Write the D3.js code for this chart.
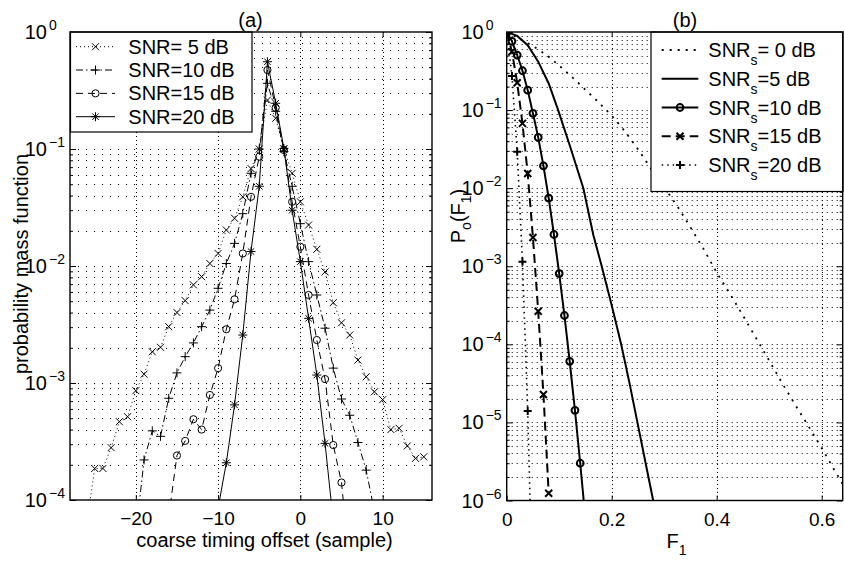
<!DOCTYPE html>
<html><head><meta charset="utf-8">
<script src="https://cdn.jsdelivr.net/npm/d3@7"></script>
<style>
body{margin:0;background:#fff;}
svg{display:block;}
</style></head><body>
<svg id="chart" width="844" height="562"></svg>
<script>
// ---------------- Panel (a) data ----------------
const xDomainA = [-28, 16];
const xTicksA = [-20, -10, 0, 10];
const yExpA = [0, -1, -2, -3, -4];
const labelsA = ["SNR= 5 dB", "SNR=10 dB", "SNR=15 dB", "SNR=20 dB"];

const x5dB = [-26,-25,-24,-23,-22,-21,-20,-19,-18,-17,-16,-15,-14,-13,-12,-11,-10,-9,-8,-7,-6,-5,-4,-3,-2,-1,0,1,2,3,4,5,6,7,8,9,10,11,12,13,14,15];
const pmf5dB = [6e-5,1.86e-4,1.86e-4,2.8e-4,4.67e-4,5.15e-4,8.6e-4,1.19e-3,1.85e-3,2.02e-3,3.03e-3,4.0e-3,5.06e-3,6.9e-3,8.1e-3,1.05e-2,1.28e-2,2.03e-2,2.56e-2,3.9e-2,6.8e-2,0.10,0.262,0.183,0.10,0.062,0.0354,0.0224,0.0139,0.0089,0.00486,0.00327,0.00257,0.00157,0.00113,8.4e-4,7.2e-4,4.0e-4,4.1e-4,2.9e-4,2.27e-4,2.34e-4];

const x10dB = [-20,-19,-18,-17,-16,-15,-14,-13,-12,-11,-10,-9,-8,-7,-6,-5,-4,-3,-2,-1,0,1,2,3,4,5,6,7,8,9];
const pmf10dB = [5e-5,2.2e-4,3.9e-4,3.5e-4,7.4e-4,1.22e-3,1.68e-3,2.2e-3,3.03e-3,4.2e-3,6.45e-3,1.05e-2,1.56e-2,2.8e-2,6.2e-2,0.10,0.364,0.21,0.095,0.048,0.023,0.0109,0.00565,0.00294,0.00134,7.3e-4,5.3e-4,3.1e-4,1.8e-4,8e-5];

const x15dB = [-16,-15,-14,-13,-12,-11,-10,-9,-8,-7,-6,-5,-4,-3,-2,-1,0,1,2,3,4,5,6];
const pmf15dB = [7.2e-5,2.4e-4,3.2e-4,4.9e-4,4.0e-4,7.9e-4,1.34e-3,2.88e-3,5.19e-3,1.28e-2,3.9e-2,0.086,0.473,0.225,0.098,0.0354,0.0146,0.00565,0.00233,0.00108,2.95e-4,1.41e-4,2.7e-5];

const x20dB = [-10,-9,-8,-7,-6,-5,-4,-3,-2,-1,0,1,2,3,4];
const pmf20dB = [8.5e-5,2.08e-4,6.5e-4,2.57e-3,1.33e-2,0.048,0.557,0.246,0.101,0.030,0.0109,0.00357,0.00117,3.05e-4,6.6e-5];

// ---------------- Panel (b) data ----------------
const xDomainB = [0, 0.64];
const xTicksB = [0, 0.2, 0.4, 0.6];
const yExpB = [0, -1, -2, -3, -4, -5, -6];
const labelsB = ["= 0 dB", "=5 dB", "=10 dB", "=15 dB", "=20 dB"];

const F0dB = [0,0.025,0.05,0.075,0.1,0.125,0.15,0.175,0.2,0.225,0.25,0.275,0.3,0.325,0.35,0.375,0.4,0.425,0.45,0.475,0.5,0.525,0.55,0.575,0.6,0.625,0.65];
const P0dB = [1,0.813,0.661,0.513,0.372,0.263,0.182,0.126,0.0851,0.0537,0.0316,0.0178,0.0102,0.00589,0.00316,0.00166,8.3e-4,4.47e-4,2.34e-4,1.2e-4,6.2e-5,3.16e-5,1.66e-5,8.9e-6,4.7e-6,2.4e-6,1.26e-6];

const F5dB = [0,0.02,0.04,0.06,0.08,0.098,0.12,0.146,0.165,0.181,0.2,0.218,0.234,0.249,0.264,0.279,0.29];
const P5dB = [1,0.891,0.676,0.417,0.219,0.1,0.0355,0.01,0.00251,0.001,3.16e-4,1e-4,3.16e-5,1e-5,3.16e-6,1e-6,4e-7];

const F10dB = [0,0.01,0.02,0.03,0.04,0.05,0.06,0.07,0.08,0.09,0.1,0.11,0.12,0.13,0.14,0.15];
const P10dB = [1,0.76,0.507,0.319,0.180,0.0908,0.0447,0.0193,0.00745,0.00255,8.05e-4,2.34e-4,6.05e-5,1.43e-5,3.0e-6,5.8e-7];

const F15dB = [0,0.01,0.02,0.03,0.04,0.05,0.06,0.07,0.08];
const P15dB = [1,0.56,0.224,0.0676,0.0154,0.00233,2.65e-4,2.28e-5,1.24e-6];

const F20dB = [0,0.01,0.02,0.03,0.04,0.05];
const P20dB = [1,0.273,0.0292,0.00114,1.4e-5,4e-8];

// ---------------- drawing ----------------
const FONT = "'Liberation Sans', Arial, Helvetica, sans-serif";
const svg = d3.select("#chart").attr("font-family", FONT);

const boxA = {left:70, right:432, top:32, bottom:500};
const boxB = {left:506.7, right:842.7, top:32, bottom:500.5};

const xA = d3.scaleLinear().domain(xDomainA).range([boxA.left, boxA.right]);
const yA = d3.scaleLog().domain([1e-4, 1]).range([boxA.bottom, boxA.top]);
const xB = d3.scaleLinear().domain(xDomainB).range([boxB.left, boxB.right]);
const yB = d3.scaleLog().domain([1e-6, 1]).range([boxB.bottom, boxB.top]);

function logGrid(minE, maxE){ const v=[]; for(let e=minE;e<maxE;e++){ for(let m=1;m<10;m++) v.push(m*Math.pow(10,e)); } v.push(Math.pow(10,maxE)); return v; }
function logMinor(minE, maxE){ const v=[]; for(let e=minE;e<maxE;e++){ for(let m=2;m<10;m++) v.push(m*Math.pow(10,e)); } return v; }

function markerPath(type, cx, cy, s){
  if(type==="x") return `M${cx-s},${cy-s}L${cx+s},${cy+s}M${cx-s},${cy+s}L${cx+s},${cy-s}`;
  if(type==="+") return `M${cx-s},${cy}L${cx+s},${cy}M${cx},${cy-s}L${cx},${cy+s}`;
  if(type==="*"){ const t=s*0.72; return `M${cx-s},${cy}L${cx+s},${cy}M${cx},${cy-s}L${cx},${cy+s}M${cx-t},${cy-t}L${cx+t},${cy+t}M${cx-t},${cy+t}L${cx+t},${cy-t}`; }
  return "";
}

function drawMarker(g, type, cx, cy, s, sw){
  if(type==="o"){
    g.append("circle").attr("cx",cx).attr("cy",cy).attr("r",s).attr("fill","none").attr("stroke","#000").attr("stroke-width",sw);
  } else if(type){
    g.append("path").attr("d",markerPath(type,cx,cy,s)).attr("fill","none").attr("stroke","#000").attr("stroke-width",sw);
  }
}

function panel(id, box, x, y, xTicks, yExps, hDash, vDash, fmt){
  const clip = svg.append("clipPath").attr("id", id);
  clip.append("rect").attr("x",box.left).attr("y",box.top).attr("width",box.right-box.left).attr("height",box.bottom-box.top);
  const g = svg.append("g");
  // grid
  const gg = g.append("g").attr("clip-path",`url(#${id})`);
  const minE = d3.min(yExps), maxE = d3.max(yExps);
  logGrid(minE, maxE).forEach(v=>{
    const yy = y(v);
    if (yy < box.top+1 || yy > box.bottom-1) return;
    const yr = Math.round(yy)+0.5;
    gg.append("line").attr("x1",box.left).attr("x2",box.right).attr("y1",yr).attr("y2",yr)
      .attr("stroke","#000").attr("stroke-width",1.1).attr("stroke-dasharray",hDash);
  });
  xTicks.forEach(v=>{
    const xx = x(v);
    if (xx < box.left+1 || xx > box.right-1) return;
    const xr = Math.round(xx)+0.5;
    gg.append("line").attr("x1",xr).attr("x2",xr).attr("y1",box.top).attr("y2",box.bottom)
      .attr("stroke","#000").attr("stroke-width",1).attr("stroke-dasharray",vDash);
  });
  // axes ticks
  const axG = g.append("g");
  axG.append("g").attr("transform",`translate(0,${box.bottom})`)
    .call(d3.axisBottom(x).tickValues(xTicks).tickSize(-5).tickPadding(12).tickFormat(fmt))
    .call(s=>s.select(".domain").remove())
    .attr("font-family",FONT).attr("font-size",19);
  axG.append("g").attr("transform",`translate(0,${box.top})`)
    .call(d3.axisTop(x).tickValues(xTicks).tickSize(-5).tickFormat(""))
    .call(s=>s.select(".domain").remove());
  const dec = yExps.map(e=>Math.pow(10,e));
  axG.append("g").attr("transform",`translate(${box.left},0)`)
    .call(d3.axisLeft(y).tickValues(dec).tickSize(-6).tickFormat(""))
    .call(s=>s.select(".domain").remove());
  axG.append("g").attr("transform",`translate(${box.left},0)`)
    .call(d3.axisLeft(y).tickValues(logMinor(minE,maxE)).tickSize(-3).tickFormat(""))
    .call(s=>s.select(".domain").remove());
  axG.append("g").attr("transform",`translate(${box.right},0)`)
    .call(d3.axisRight(y).tickValues(dec).tickSize(-6).tickFormat(""))
    .call(s=>s.select(".domain").remove());
  axG.append("g").attr("transform",`translate(${box.right},0)`)
    .call(d3.axisRight(y).tickValues(logMinor(minE,maxE)).tickSize(-3).tickFormat(""))
    .call(s=>s.select(".domain").remove());
  // y labels 10^e
  yExps.forEach(e=>{
    const yy = y(Math.pow(10,e));
    g.append("text").attr("x",box.left-23).attr("y",yy+7).attr("text-anchor","end").attr("font-size",20).text("10");
    g.append("text").attr("x",box.left-21).attr("y",yy-2).attr("text-anchor","start").attr("font-size",14)
      .text(e<0 ? "\u2212"+Math.abs(e) : String(e));
  });
  return {g, clipId:id};
}

function series(p, x, y, xs, ys, dash, lw, marker, ms, mw){
  const data = d3.zip(xs, ys);
  const sg = p.g.append("g").attr("clip-path",`url(#${p.clipId})`);
  sg.append("path").datum(data)
    .attr("d", d3.line().x(d=>x(d[0])).y(d=>y(d[1])))
    .attr("fill","none").attr("stroke","#000").attr("stroke-width",lw)
    .attr("stroke-dasharray",dash);
  if (marker) data.forEach(d=>drawMarker(sg, marker, x(d[0]), y(d[1]), ms, mw));
}

// ---------- Panel (a) ----------
const pA = panel("clipA", boxA, xA, yA, xTicksA, yExpA, "1,7", "1,3", d=> d<0 ? "\u2212"+Math.abs(d) : String(d));
const stylesA = [
  {xs:x5dB,  ys:pmf5dB,  dash:"1,3",       marker:"x", ms:3.5},
  {xs:x10dB, ys:pmf10dB, dash:"7,3,1.5,3", marker:"+", ms:4.5},
  {xs:x15dB, ys:pmf15dB, dash:"7,5",       marker:"o", ms:3.6},
  {xs:x20dB, ys:pmf20dB, dash:null,        marker:"*", ms:4.5}
];
stylesA.forEach(s=>series(pA, xA, yA, s.xs, s.ys, s.dash, 1, s.marker, s.ms, 1));

// legend (a)
const lgA = svg.append("g");
lgA.append("rect").attr("x",70.5).attr("y",32).attr("width",181.5).attr("height",100).attr("fill","#fff").attr("stroke","#000").attr("stroke-width",1.2);
labelsA.forEach((t,i)=>{
  const cy = 46.7 + i*23.33;
  const s = stylesA[i];
  lgA.append("line").attr("x1",76).attr("x2",115).attr("y1",cy).attr("y2",cy).attr("stroke","#000").attr("stroke-width",1).attr("stroke-dasharray",s.dash);
  drawMarker(lgA, s.marker, 95.5, cy, s.ms, 1);
  lgA.append("text").attr("x",128.3).attr("y",cy+7).attr("font-size",20).text(t);
});

// frame (a)
svg.append("rect").attr("x",boxA.left).attr("y",boxA.top).attr("width",boxA.right-boxA.left).attr("height",boxA.bottom-boxA.top)
  .attr("fill","none").attr("stroke","#000").attr("stroke-width",1.4);

// labels (a)
svg.append("text").attr("x",250.5).attr("y",27).attr("text-anchor","middle").attr("font-size",20).text("(a)");
svg.append("text").attr("x",264.5).attr("y",547).attr("text-anchor","middle").attr("font-size",20).text("coarse timing offset (sample)");
svg.append("text").attr("transform","translate(28,264) rotate(-90)").attr("text-anchor","middle").attr("font-size",20).text("probability mass function");

// ---------- Panel (b) ----------
const pB = panel("clipB", boxB, xB, yB, xTicksB, yExpB, "1,4", "1,3", d=> d===0 ? "0" : d3.format(".1f")(d));
const stylesB = [
  {xs:F0dB,  ys:P0dB,  dash:"2,6",   lw:1.8, marker:null, ms:0},
  {xs:F5dB,  ys:P5dB,  dash:null,    lw:2,   marker:null, ms:0},
  {xs:F10dB, ys:P10dB, dash:null,    lw:2,   marker:"o",  ms:3.4},
  {xs:F15dB, ys:P15dB, dash:"9,5",   lw:2,   marker:"x",  ms:3.5},
  {xs:F20dB, ys:P20dB, dash:"1.5,4", lw:1.6, marker:"+",  ms:4}
];
stylesB.forEach(s=>series(pB, xB, yB, s.xs, s.ys, s.dash, s.lw, s.marker, s.ms, 2));

// legend (b)
const lgB = svg.append("g");
lgB.append("rect").attr("x",651).attr("y",32).attr("width",192).attr("height",159.5).attr("fill","#fff").attr("stroke","#000").attr("stroke-width",1.2);
labelsB.forEach((t,i)=>{
  const cy = 50 + i*28.75;
  const s = stylesB[i];
  lgB.append("line").attr("x1",661.7).attr("x2",698.3).attr("y1",cy).attr("y2",cy).attr("stroke","#000").attr("stroke-width",s.lw).attr("stroke-dasharray",s.dash);
  drawMarker(lgB, s.marker, 680, cy, s.ms, 2);
  const tx = lgB.append("text").attr("x",708.3).attr("y",cy+7).attr("font-size",20);
  tx.append("tspan").text("SNR");
  tx.append("tspan").attr("font-size",14).attr("dy",8).text("s");
  tx.append("tspan").attr("dy",-8).text(t);
});

// frame (b)
svg.append("rect").attr("x",boxB.left).attr("y",boxB.top).attr("width",boxB.right-boxB.left).attr("height",boxB.bottom-boxB.top)
  .attr("fill","none").attr("stroke","#000").attr("stroke-width",1.4);

// labels (b)
svg.append("text").attr("x",685).attr("y",27).attr("text-anchor","middle").attr("font-size",20).text("(b)");
const xlB = svg.append("text").attr("x",666.5).attr("y",548).attr("font-size",20);
xlB.append("tspan").text("F");
xlB.append("tspan").attr("font-size",14).attr("dy",7).text("1");
const ylB = svg.append("text").attr("transform","translate(465,216) rotate(-90)").attr("text-anchor","middle").attr("font-size",20);
ylB.append("tspan").text("P");
ylB.append("tspan").attr("font-size",14).attr("dy",6).text("o");
ylB.append("tspan").attr("dy",-6).text("(F");
ylB.append("tspan").attr("font-size",14).attr("dy",6).text("1");
ylB.append("tspan").attr("dy",-6).text(")");
</script>
</body></html>
